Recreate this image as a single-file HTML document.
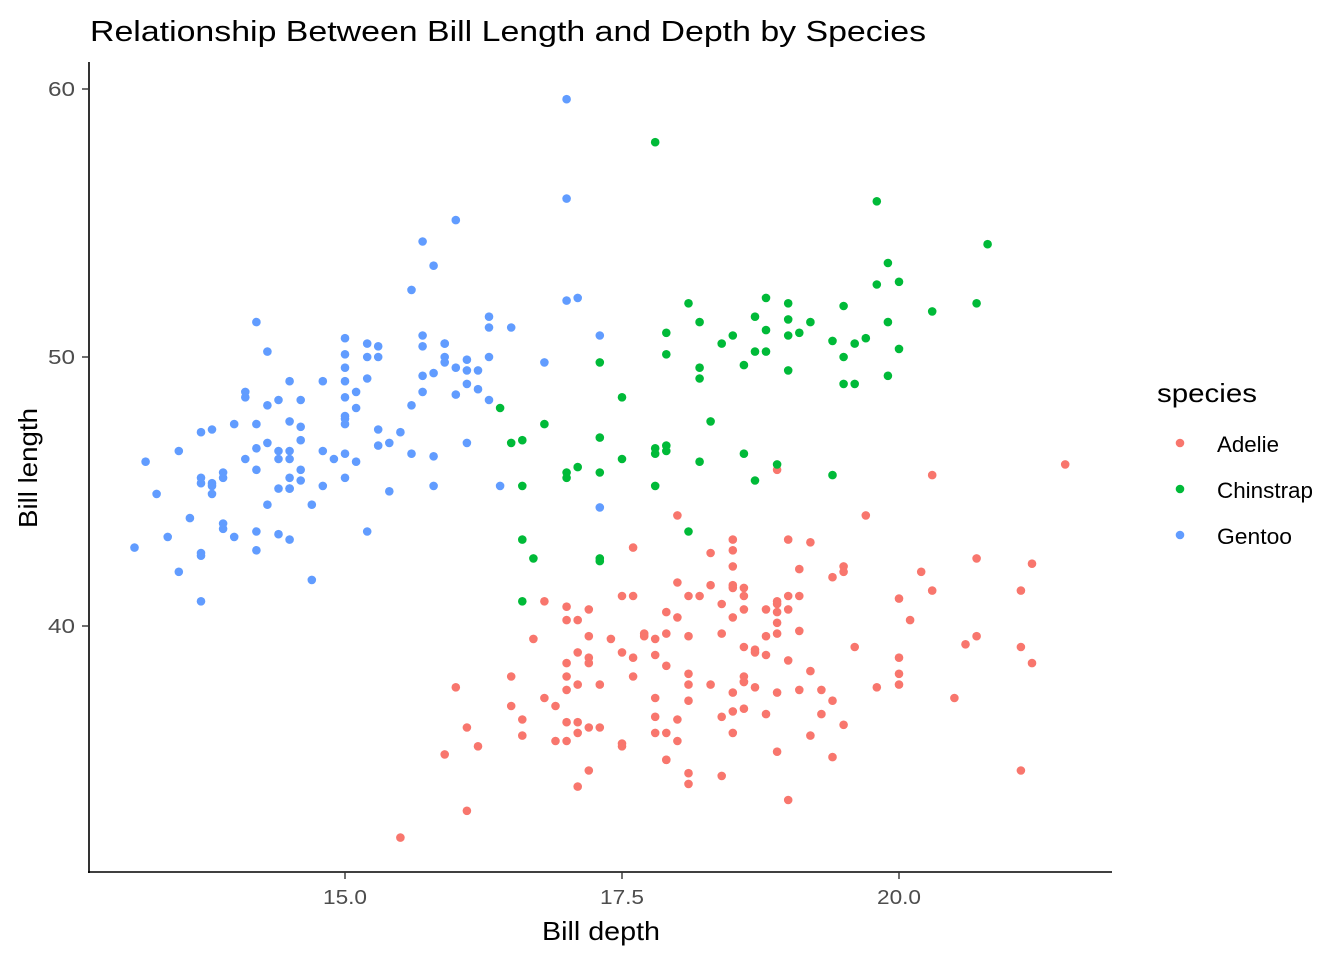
<!DOCTYPE html>
<html><head><meta charset="utf-8"><style>
html,body{margin:0;padding:0;background:#fff;}
svg{display:block;font-family:"Liberation Sans",Arial,sans-serif;}
</style></head><body>
<svg id="s" width="1344" height="960" xmlns="http://www.w3.org/2000/svg">
<rect width="1344" height="960" fill="#fff"/>
<text x="90" y="41" font-size="29" fill="#000" textLength="836" lengthAdjust="spacingAndGlyphs">Relationship Between Bill Length and Depth by Species</text>
<g id="pts"></g>
<line x1="89" y1="62" x2="89" y2="873" stroke="#000" stroke-width="1.6"/>
<line x1="88" y1="872" x2="1112" y2="872" stroke="#000" stroke-width="1.6"/>
<g stroke="#333" stroke-width="1.4">
<line x1="82" y1="89" x2="89" y2="89"/><line x1="82" y1="357" x2="89" y2="357"/><line x1="82" y1="626" x2="89" y2="626"/>
<line x1="345" y1="872" x2="345" y2="879"/><line x1="622" y1="872" x2="622" y2="879"/><line x1="899" y1="872" x2="899" y2="879"/>
</g>
<g font-size="20" fill="#4d4d4d">
<text x="75" y="96" text-anchor="end" textLength="27" lengthAdjust="spacingAndGlyphs">60</text>
<text x="75" y="364" text-anchor="end" textLength="27" lengthAdjust="spacingAndGlyphs">50</text>
<text x="75" y="633" text-anchor="end" textLength="27" lengthAdjust="spacingAndGlyphs">40</text>
<text x="345" y="904" text-anchor="middle" textLength="44" lengthAdjust="spacingAndGlyphs">15.0</text>
<text x="622" y="904" text-anchor="middle" textLength="44" lengthAdjust="spacingAndGlyphs">17.5</text>
<text x="899" y="904" text-anchor="middle" textLength="44" lengthAdjust="spacingAndGlyphs">20.0</text>
</g>
<text x="542" y="940" font-size="26" textLength="118" lengthAdjust="spacingAndGlyphs">Bill depth</text>
<text transform="translate(37,528) rotate(-90)" font-size="26" textLength="120" lengthAdjust="spacingAndGlyphs">Bill length</text>
<text x="1157" y="402" font-size="26" textLength="100" lengthAdjust="spacingAndGlyphs">species</text>
<circle cx="1180" cy="443" r="4.3" fill="#F8766D"/>
<circle cx="1180" cy="489" r="4.3" fill="#00BA38"/>
<circle cx="1180" cy="535" r="4.3" fill="#619CFF"/>
<g font-size="22"><text x="1217" y="452" textLength="62" lengthAdjust="spacingAndGlyphs">Adelie</text><text x="1217" y="498" textLength="96" lengthAdjust="spacingAndGlyphs">Chinstrap</text><text x="1217" y="544" textLength="75" lengthAdjust="spacingAndGlyphs">Gentoo</text></g>
</svg>
<script>
var A=[39.1,18.7,39.5,17.4,40.3,18,36.7,19.3,39.3,20.6,38.9,17.8,39.2,19.6,34.1,18.1,42,20.2,37.8,17.1,37.8,17.3,41.1,17.6,38.6,21.2,34.6,21.1,36.6,17.8,38.7,19,42.5,20.7,34.4,18.4,46,21.5,37.8,18.3,37.7,18.7,35.9,19.2,38.2,18.1,38.8,17.2,35.3,18.9,40.6,18.6,40.5,17.9,37.9,18.6,40.5,18.9,39.5,16.7,37.2,18.1,39.5,17.8,40.9,18.9,36.4,17,39.2,21.1,38.8,20,42.2,18.5,37.6,19.3,39.8,19.1,36.5,18,40.8,18.4,36,18.5,44.1,19.7,37,16.9,39.6,18.8,41.1,19,37.5,18.9,36,17.9,42.3,21.2,39.6,17.7,40.1,18.9,35,17.9,42,19.5,34.5,18.1,41.4,18.6,39,17.5,40.6,18.8,36.5,16.6,37.6,19.1,35.7,16.9,41.3,21.1,37.6,17,41.1,18.2,36.4,17.1,41.6,18,35.5,16.2,41.1,19.1,35.9,16.6,41.8,19.4,33.5,19,39.7,18.4,39.6,17.2,45.8,18.9,35.5,17.5,42.8,18.5,40.9,16.8,37.2,19.4,36.2,16.1,42.1,19.1,34.6,17.2,42.9,17.6,36.7,18.8,35.1,19.4,37.3,17.8,41.3,20.3,36.3,19.5,36.9,18.6,38.3,19.2,38.9,18.8,35.7,18,41.1,18.1,34,17.1,39.6,18.1,36.2,17.3,40.8,18.9,38.1,18.6,40.3,18.5,33.1,16.1,43.2,18.5,35,17.9,41,20,37.7,16,37.8,20,37.9,18.6,39.7,18.9,38.6,17.2,38.2,20,38.1,17,43.2,19,38.1,16.5,45.6,20.3,39.7,17.7,42.2,19.5,39.6,20.7,42.7,18.3,38.6,17,37.3,20.5,35.7,17,41.1,18.6,36.2,17.2,37.7,19.8,40.2,17,41.4,18.5,35.2,15.9,40.6,19,38.8,17.6,41.5,18.3,39,17.1,44.1,18,38.5,17.9,43.1,19.2,36.8,18.5,37.5,18.5,38.1,17.6,41.1,17.5,35.6,17.5,40.2,20.1,37,16.5,39.7,17.9,40.2,17.1,40.6,17.2,32.1,15.5,40.7,17,37.3,16.8,39,18.7,39.2,18.6,36.6,18.4,36,17.8,37.8,18.1,36,17.1,41.5,18.5];
var G=[46.1,13.2,50,16.3,48.7,14.1,50,15.2,47.6,14.5,46.5,13.5,45.4,14.6,46.7,15.3,43.3,13.4,46.8,15.4,40.9,13.7,49,16.1,45.5,13.7,48.4,14.6,45.8,14.6,49.3,15.7,42,13.5,49.2,15.2,46.2,14.5,48.7,15.1,50.2,14.3,45.1,14.5,46.5,14.5,46.3,15.8,42.9,13.1,46.1,15.1,44.5,14.3,47.8,15,48.2,14.3,50,15.3,47.3,15.3,42.8,14.2,45.1,14.5,59.6,17,49.1,14.8,48.4,16.3,42.6,13.7,44.4,17.3,44,13.6,48.7,15.7,42.7,13.7,49.6,16,45.3,13.7,49.6,15,50.5,15.9,43.6,13.9,45.5,13.9,50.5,15.9,44.9,13.3,45.2,15.8,46.6,14.2,48.5,14.1,45.1,14.4,50.1,15,46.5,14.4,45,15.4,43.8,13.9,45.5,15,43.2,14.5,50.4,15.3,45.3,13.8,46.2,14.9,45.7,13.9,54.3,15.7,45.8,14.2,49.8,16.8,46.2,14.4,49.5,16.2,43.5,14.2,50.7,15,47.7,15,46.4,15.6,48.2,15.6,46.5,14.8,46.4,15,48.6,16,47.5,14.2,51.1,16.3,45.2,13.8,45.2,16.4,49.1,14.5,52.5,15.6,47.4,14.6,50,15.9,44.9,13.8,50.8,17.3,43.4,14.4,51.3,14.2,47.5,14,52.1,17,47.5,15,52.2,17.1,45.5,14.5,49.5,16.1,44.5,14.7,50.8,15.7,49.4,15.8,46.9,14.6,48.4,14.4,51.1,16.5,48.5,15,55.9,17,47.2,15.5,49.1,15,47.3,13.8,46.8,16.1,41.7,14.7,53.4,15.8,43.3,14,48.1,15.1,50.5,15.2,49.8,15.9,43.5,15.2,51.5,16.3,46.2,14.1,55.1,16,48.8,16.2,47.2,13.7,46.8,14.3,50.4,15.7,45.2,14.8,49.9,16.1];
var C=[46.5,17.9,50,19.5,51.3,19.2,45.4,18.7,52.7,19.8,45.2,17.8,46.1,18.2,51.3,18.2,46,18.9,51.3,19.9,46.6,17.8,51.7,20.3,47,17.3,52,18.1,45.9,17.1,50.5,19.6,50.3,20,58,17.8,46.4,18.6,49.2,18.2,42.4,17.3,48.5,17.5,43.2,16.6,50.6,19.4,46.7,17.9,52,19,50.5,18.4,49.5,19,46.4,17.8,52.8,20,40.9,16.6,54.2,20.8,42.5,16.7,51,18.8,49.7,18.6,47.5,16.8,47.6,18.3,52,20.7,46.9,16.6,53.5,19.9,49,19.5,46.2,17.5,50.9,19.1,45.5,17,50.9,17.9,50.8,18.5,50.1,17.9,49,19.6,51.5,18.7,49.8,17.3,48.1,16.4,51.4,19,45.7,17.3,50.7,19.7,42.5,17.3,52.2,18.8,45.2,16.6,49.3,19.9,50.2,18.8,45.6,19.4,51.9,19.5,46.8,16.5,45.7,17,55.8,19.8,43.5,18.1,49.6,18.2,50.8,19,50.2,18.7];
var g=document.getElementById('pts'),h='';
function add(a,col){for(var i=0;i<a.length;i+=2){var x=345+(a[i+1]-15)*110.8,y=357-(a[i]-50)*26.85;h+='<circle cx="'+x.toFixed(1)+'" cy="'+y.toFixed(1)+'" r="4.3" fill="'+col+'"/>';}}
add(A,'#F8766D');add(C,'#00BA38');add(G,'#619CFF');
g.innerHTML=h;
</script>
</body></html>
